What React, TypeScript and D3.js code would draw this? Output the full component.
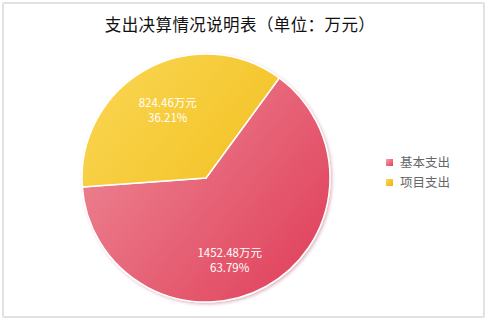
import React from "react";
import * as d3 from "d3";

const categories = ["基本支出", "项目支出"];
const values = [1452.48, 824.46];
const percents = ["63.79%", "36.21%"];
const title = "支出决算情况说明表（单位：万元）";

const W = 490;
const H = 324;
const cx = 206;
const cy = 178;
const R = 124;
const startDeg = 36.2;
const labelRadius = [84, 79];
const labelAngleShift = [12.6, 0];

export default function App() {
  const pie = d3
    .pie<number>()
    .sort(null)
    .startAngle((startDeg * Math.PI) / 180)
    .endAngle((startDeg * Math.PI) / 180 + 2 * Math.PI);
  const arcs = pie(values);
  const arc = d3.arc<d3.PieArcDatum<number>>().innerRadius(0).outerRadius(R);
  const grads = [
    ["#ee8d99", "#e0405a"],
    ["#fad652", "#efb60a"],
  ];
  const legendColors = [
    ["#f2a0ab", "#e2425a"],
    ["#fbd85a", "#f0b400"],
  ];
  const font = "'Noto Sans CJK SC', 'DejaVu Sans', sans-serif";
  return (
    <svg
      width={W}
      height={H}
      style={{ position: "absolute", left: 0, top: 0, background: "#fff" }}
    >
      <defs>
        {grads.map((g, i) => (
          <linearGradient
            key={i}
            id={`g${i}`}
            gradientUnits="userSpaceOnUse"
            x1={-R}
            y1={-R * 0.8}
            x2={R}
            y2={R * 0.8}
          >
            <stop offset="0%" stopColor={g[0]} />
            <stop offset="100%" stopColor={g[1]} />
          </linearGradient>
        ))}
        {legendColors.map((g, i) => (
          <linearGradient key={i} id={`lg${i}`} x1="0" y1="0" x2="1" y2="1">
            <stop offset="0%" stopColor={g[0]} />
            <stop offset="100%" stopColor={g[1]} />
          </linearGradient>
        ))}
        <filter id="shadow" x="-20%" y="-20%" width="140%" height="140%">
          <feDropShadow dx="1.5" dy="1.5" stdDeviation="1.5" floodColor="#a03050" floodOpacity="0.35" />
        </filter>
      </defs>
      <rect x={3} y={3} width={481} height={314} fill="#fff" stroke="#e2e2e2" strokeWidth={2} rx={1} />
      <text x={240} y={31} textAnchor="middle" fontFamily={font} fontSize={16.5} letterSpacing={0.4} fill="#111">
        {title}
      </text>
      <g transform={`translate(${cx},${cy})`} filter="url(#shadow)">
        {arcs.map((a, i) => (
          <path key={i} d={arc(a) || ""} fill={`url(#g${i})`} stroke="#fff" strokeWidth={1.5} />
        ))}
      </g>
      <g transform={`translate(${cx},${cy})`}>
        {arcs.map((a, i) => {
          const mid = (a.startAngle + a.endAngle) / 2 + (labelAngleShift[i] * Math.PI) / 180;
          const lx = Math.sin(mid) * labelRadius[i];
          const ly = -Math.cos(mid) * labelRadius[i];
          return (
            <g key={i} transform={`translate(${lx},${ly})`}>
              <text y={-2} textAnchor="middle" fontFamily={font} fontSize={11.5} fill="#fff">
                {`${values[i]}万元`}
              </text>
              <text y={13.5} textAnchor="middle" fontFamily={font} fontSize={11.5} fill="#fff">
                {percents[i]}
              </text>
            </g>
          );
        })}
      </g>
      <g>
        {categories.map((c, i) => (
          <g key={c} transform={`translate(386,${159 + i * 20})`}>
            <rect x={0} y={0} width={7} height={7} fill={`url(#lg${i})`} />
            <text x={14} y={8} fontFamily={font} fontSize={12.5} fill="#666">
              {c}
            </text>
          </g>
        ))}
      </g>
    </svg>
  );
}
